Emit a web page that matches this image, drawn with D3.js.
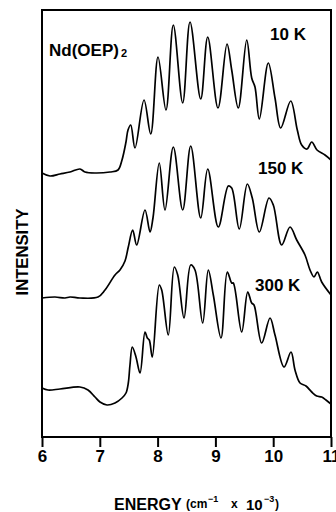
<!DOCTYPE html>
<html>
<head>
<meta charset="utf-8">
<script src="https://cdn.jsdelivr.net/npm/d3@7/dist/d3.min.js"></script>
<style>
  html, body { margin: 0; padding: 0; background: #fff; }
  svg text { font-family: "Liberation Sans", Arial, Helvetica, sans-serif; font-weight: bold; fill: #000; }
</style>
</head>
<body>
<svg id="chart" width="336" height="512"></svg>
<script>
// ---- data (energy in 10^3 cm^-1, intensity in arbitrary units) ----
const xTicks = [6, 7, 8, 9, 10, 11];
const seriesLabels = ["10 K", "150 K", "300 K"];

const energy10K = [6.000, 6.138, 6.311, 6.484, 6.657, 6.744, 6.917, 7.176, 7.315, 7.384, 7.453, 7.488,
  7.535, 7.609, 7.765, 7.881, 8.007, 8.145, 8.272, 8.434, 8.561, 8.746, 8.867, 9.045, 9.201, 9.282,
  9.396, 9.542, 9.628, 9.685, 9.760, 9.915, 10.031, 10.130, 10.303, 10.417, 10.493, 10.585, 10.666,
  10.758, 10.896, 11.000];
const intensity10K = [264, 261, 263, 265, 268, 265, 264, 265, 267, 277, 295, 307,
  312, 289, 337, 303, 380, 327, 412, 334, 415, 338, 400, 329, 393, 367,
  329, 397, 359, 350, 318, 374, 339, 309, 336, 307, 292, 288, 295,
  287, 282, 277];

const energy150K = [6.000, 6.225, 6.398, 6.484, 6.657, 6.969, 7.090, 7.263, 7.349, 7.436, 7.493,
  7.569, 7.638, 7.782, 7.869, 7.920, 8.029, 8.128, 8.272, 8.434, 8.573, 8.746, 8.867, 9.050, 9.223,
  9.282, 9.413, 9.552, 9.638, 9.760, 9.927, 10.002, 10.147, 10.291, 10.407, 10.550, 10.637, 10.706,
  10.763, 10.839, 11.000];
const intensity150K = [139, 140, 139, 140, 139, 140, 147, 162, 167, 176, 190,
  207, 192, 227, 205, 219, 274, 227, 290, 227, 291, 219, 268, 210, 251,
  249, 208, 253, 239, 205, 239, 232, 192, 210, 197, 182, 167, 160,
  165, 155, 142];

const energy300K = [6.000, 6.104, 6.311, 6.657, 6.796, 6.917, 7.003, 7.125, 7.263, 7.384, 7.453,
  7.493, 7.522, 7.562, 7.626, 7.696, 7.782, 7.822, 7.856, 7.908, 8.029, 8.071, 8.185, 8.289, 8.348,
  8.457, 8.573, 8.647, 8.780, 8.877, 8.964, 9.097, 9.206, 9.282, 9.310, 9.455, 9.559, 9.628, 9.668,
  9.801, 9.945, 10.031, 10.187, 10.308, 10.377, 10.464, 10.567, 10.666, 10.753, 10.839, 10.913, 11.000];
const intensity300K = [49, 47, 48, 50, 47, 40, 35, 32, 34, 39, 44,
  54, 72, 90, 80, 64, 105, 99, 97, 80, 152, 147, 102, 170, 162,
  119, 172, 167, 114, 167, 142, 99, 165, 154, 154, 105, 145, 134, 132,
  94, 119, 102, 70, 85, 67, 54, 51, 45, 41, 40, 37, 33];

// ---- layout ----
const svg = d3.select("#chart");
const mLeft = 42, mRight = 331, mTop = 10, mBottom = 437;

const x = d3.scaleLinear().domain([6, 11]).range([mLeft, mRight]);
const y = d3.scaleLinear().domain([0, 427]).range([mBottom, mTop]);

const series = [
  { name: seriesLabels[0], e: energy10K, v: intensity10K },
  { name: seriesLabels[1], e: energy150K, v: intensity150K },
  { name: seriesLabels[2], e: energy300K, v: intensity300K }
];

const line = d3.line()
  .x(d => x(d[0]))
  .y(d => y(d[1]))
  .curve(d3.curveCatmullRom.alpha(0.5));

svg.append("g")
  .selectAll("path")
  .data(series)
  .join("path")
  .attr("d", s => line(s.e.map((e, i) => [e, s.v[i]])))
  .attr("fill", "none")
  .attr("stroke", "#000")
  .attr("stroke-width", 1.7)
  .attr("stroke-linejoin", "round");

// frame
svg.append("rect")
  .attr("x", mLeft).attr("y", mTop)
  .attr("width", mRight - mLeft).attr("height", mBottom - mTop)
  .attr("fill", "none").attr("stroke", "#000").attr("stroke-width", 2);

// bottom axis
const xAxis = d3.axisBottom(x).tickValues(xTicks).tickSize(10).tickPadding(3).tickFormat(d3.format("d"));
const gx = svg.append("g").attr("transform", `translate(0,${mBottom})`).call(xAxis);
gx.select(".domain").remove();
gx.selectAll(".tick line").attr("stroke", "#000").attr("stroke-width", 2);
gx.selectAll(".tick text")
  .attr("font-size", 17)
  .attr("fill", "#000")
  .style("font-family", '"Liberation Sans", Arial, sans-serif')
  .style("font-weight", "bold");

// series labels
const labelPos = [[270, 39.5], [258, 174], [255, 290.5]];
svg.selectAll("text.series")
  .data(series)
  .join("text")
  .attr("class", "series")
  .attr("x", (d, i) => labelPos[i][0])
  .attr("y", (d, i) => labelPos[i][1])
  .attr("font-size", 17)
  .text(d => d.name);

// compound label
const comp = svg.append("text").attr("x", 49).attr("y", 56).attr("font-size", 17);
comp.append("tspan").text("Nd(OEP)");
comp.append("tspan").attr("font-size", 11).attr("dy", 1).attr("dx", 2).text("2");

// y label
svg.append("text")
  .attr("transform", "translate(27.5,252) rotate(-90)")
  .attr("text-anchor", "middle")
  .attr("font-size", 16)
  .attr("textLength", 87)
  .attr("lengthAdjust", "spacingAndGlyphs")
  .text("INTENSITY");

// x label (single text with tspans)
const xl = svg.append("text").attr("x", 114).attr("y", 510).attr("font-size", 16);
xl.append("tspan").text("ENERGY");
xl.append("tspan").attr("x", 186).attr("y", 508).attr("font-size", 12).text("(cm");
xl.append("tspan").attr("x", 208).attr("y", 502).attr("font-size", 9).text("−1");
xl.append("tspan").attr("x", 231).attr("y", 508).attr("font-size", 12).text("x");
xl.append("tspan").attr("x", 246).attr("y", 510).attr("font-size", 15).text("10");
xl.append("tspan").attr("x", 264).attr("y", 502).attr("font-size", 9).text("−3");
xl.append("tspan").attr("x", 275).attr("y", 508).attr("font-size", 12).text(")");
</script>
</body>
</html>
